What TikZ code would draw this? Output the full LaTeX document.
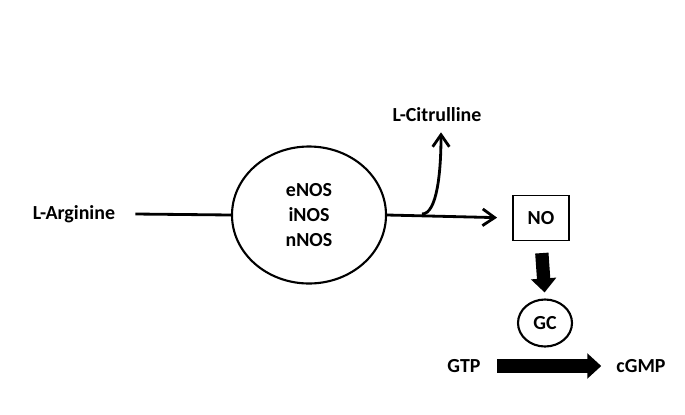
\documentclass[tikz,border=0pt]{standalone}
\usepackage{fontspec}
\setmainfont{Carlito}
\usepackage{tikz}
\usetikzlibrary{arrows.meta,shapes.geometric}

\begin{document}
\begin{tikzpicture}[x=0.03cm,y=-0.03cm,
  txt/.style={font=\fontsize{17}{21.5}\selectfont\bfseries,inner sep=0pt},
  enz/.style={draw,ellipse,line width=1.8pt,align=center},
  rxn/.style={line width=2.4pt},
  big/.style={line width=0.4cm,-{Triangle[width=0.74cm,length=0.42cm]}},
  tip/.style={-{Straight Barb[length=0.36cm,width=0.5cm,line width=2.4pt]}}]
\useasboundingbox (0,0) rectangle (685,414);
% substrates and enzymes
\node[txt] (arg) at (74,214) {L-Arginine};
\node[txt,enz,minimum width=4.62cm,minimum height=4.11cm] (nos) at (309,215)
  {eNOS\\iNOS\\nNOS};
\node[txt] (cit) at (437,115) {L-Citrulline};
\node[txt,draw,line width=1.6pt,minimum width=1.68cm,minimum height=1.35cm] (no) at (541,218) {NO};
\node[txt,enz,minimum width=1.62cm,minimum height=1.41cm] (gc) at (545,323) {GC};
\node[txt] (gtp) at (464,366) {GTP};
\node[txt] (cgmp) at (641,366) {cGMP};
% NOS reaction
\draw[rxn] (arg.east) ++(20,0) -- (nos.west);
\draw[rxn,tip,shorten >=0.45cm] (nos.east) -- (no.west);
\coordinate (br) at (422,214);
\draw[rxn,tip,shorten >=0.3cm] (br) .. controls +(15,0) and +(0,50) .. (cit.south -| 441,0);
% GC activation
\draw[big,shorten <=0.35cm,shorten >=0.18cm] (no.south) -- (gc.north);
\draw[big,shorten <=0.5cm,shorten >=0.45cm] (gtp.east) -- (cgmp.west);
\end{tikzpicture}
\end{document}
